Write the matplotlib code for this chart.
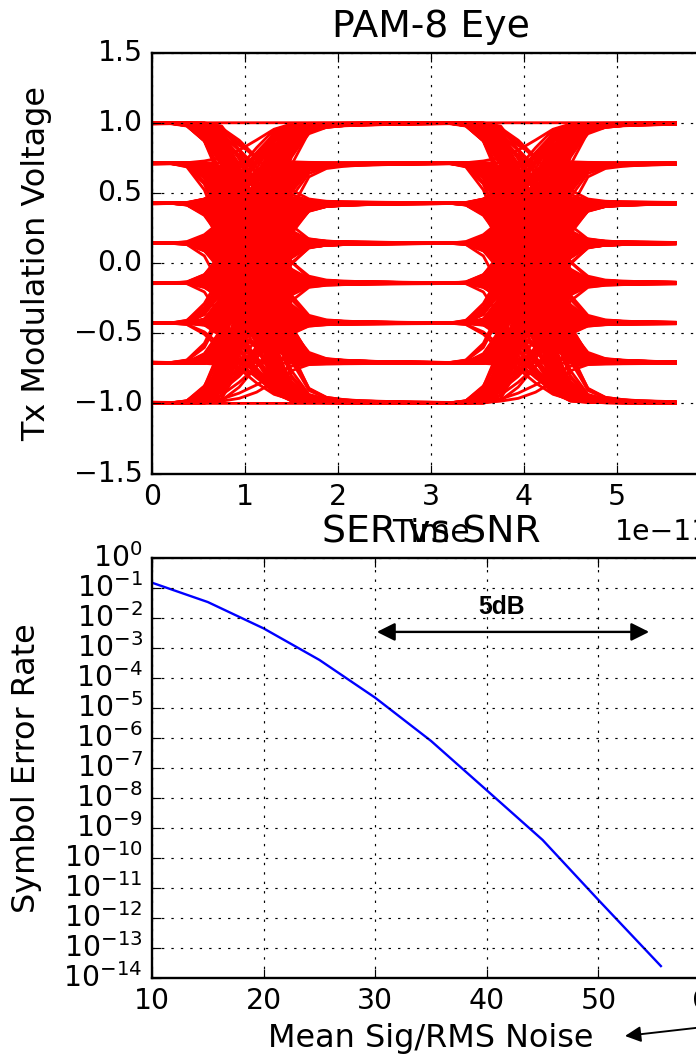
import numpy as np
import matplotlib
matplotlib.use('Agg')
import matplotlib.pyplot as plt

plt.style.use('classic')
plt.rcParams['figure.facecolor'] = 'white'
plt.rcParams['savefig.facecolor'] = 'white'
plt.rcParams['font.family'] = ['DejaVu Sans']
plt.rcParams['font.size'] = 12
plt.rcParams['axes.titlesize'] = 16
plt.rcParams['axes.labelsize'] = 13.5
plt.rcParams['xtick.labelsize'] = 12
plt.rcParams['ytick.labelsize'] = 12
plt.rcParams['axes.titlepad'] = 6.5

# --- PAM-8 eye: levels, symbol pattern, Tx step response ---
levels = [-1.0, -0.714, -0.429, -0.143, 0.143, 0.429, 0.714, 1.0]
symbols = ("0010203040506071121314151617223242526273343536374454647556576677"
           "0625173046213570642751360247153062417350264173605274136250714635"
           "3517260413562074315720461375026431750624137052641730562471350264"
           "7142635071462305714263507146230571462350716423057164235071642305"
           "5203716452701364025713604275136402571360427513640257136042751364"
           "2716054327160543271605432716054327160543271605432716054327160543"
           "4061735206417352061473520614735206147352061473520614735206147352")
# per-edge timing offset (1e-11 s), edge speed factor and mid-edge bend (V), used in turn
jitter = [0.00, 0.08, -0.06, 0.12, -0.10, 0.04, -0.01, 0.06, -0.12, 0.09,
          -0.07, 0.02, -0.04, 0.11, -0.09, 0.05, -0.02, 0.07, -0.11, 0.01,
          -0.05, 0.10, -0.01, 0.04, -0.08, 0.06, -0.04, 0.03, -0.07]
rise = [1.0, 0.88, 1.12, 0.94, 1.06, 0.85, 1.15, 0.97, 1.09, 0.91, 1.03]
bend = [0.0, 0.06, -0.05, 0.03, -0.07, 0.05, -0.02, 0.07, -0.06, 0.04, -0.04, 0.01, -0.07]
step_t = [-0.65, -0.5, -0.4, -0.25, -0.1, 0.0, 0.1, 0.25, 0.4, 0.5, 0.65, 0.9, 1.4, 2.2, 3.5]
step_v = [0.0, 0.02, 0.07, 0.2, 0.38, 0.5, 0.62, 0.8, 0.93, 0.965, 0.982, 0.99, 0.995, 0.998, 1.0]
bump_t = [-0.45, -0.2, 0.0, 0.2, 0.45]
bump_v = [0.0, 0.7, 1.0, 0.7, 0.0]
ui = 3.0        # symbol period (1e-11 s)
dt = 0.1875     # sample spacing (1e-11 s)
n_trace = 31    # samples in one trace
t_edge = 1.08   # where the symbol edge sits inside a trace

# --- SER vs SNR curve ---
snr = [10, 15, 20, 25, 30, 35, 40, 45, 50, 55.6]
ser = [1.5e-1, 3.4e-2, 4.5e-3, 4.0e-4, 2.2e-5, 8.0e-7, 1.8e-8, 4.0e-10, 4.0e-12, 2.5e-14]


# build the Tx waveform from the symbols
a = np.array([levels[int(c)] for c in symbols])
spu = int(round(ui / dt))
start = int(round(t_edge / dt))
t_off = t_edge - start * dt
t = np.arange(len(a) * spu) * dt
wave = np.full(t.shape, a[0])
for k in range(1, len(a)):
    d = a[k] - a[k - 1]
    if d == 0:
        continue
    x = (t - k * ui - t_off - jitter[k % len(jitter)]) / rise[k % len(rise)]
    wave += d * np.interp(x, step_t, step_v) + bend[k % len(bend)] * np.interp(x, bump_t, bump_v)
wave = np.clip(wave, -1.0, 1.0)  # Tx output saturates at full swing

segs = np.array([wave[k * spu - start: k * spu - start + n_trace] for k in range(1, len(a) - 1)])
tt = np.arange(n_trace) * dt * 1e-11

fig = plt.figure(figsize=(696 / 170, 1054 / 170), dpi=170)

# Eye diagram
ax1 = fig.add_axes([0.2184, 0.5507, 0.8017, 0.3994])
ax1.plot(tt, segs.T, color='r', lw=1.2)
ax1.set_xlim(0, 6e-11)
ax1.set_ylim(-1.5, 1.5)
ax1.set_xticks(np.arange(0, 7) * 1e-11)
ax1.set_yticks(np.arange(-1.5, 1.51, 0.5))
ax1.grid(True)
ax1.set_title('PAM-8 Eye')
ax1.set_xlabel('Time', labelpad=3)
ax1.set_ylabel('Tx Modulation Voltage', labelpad=9)

# SER vs SNR
ax2 = fig.add_axes([0.2184, 0.0721, 0.8017, 0.3985])
ax2.semilogy(snr, ser, color='b', lw=1.0)
ax2.set_xlim(10, 60)
ax2.set_ylim(1e-14, 1)
ax2.set_yticks([10.0 ** -i for i in range(15)])
ax2.yaxis.set_minor_locator(matplotlib.ticker.NullLocator())
ax2.grid(True)
ax2.set_title('SER vs SNR')
ax2.set_xlabel('Mean Sig/RMS Noise', labelpad=3)
ax2.set_ylabel('Symbol Error Rate', labelpad=9)

# 5dB marker
ax2.annotate('', xy=(0.403, 0.824), xytext=(0.891, 0.824), xycoords='axes fraction',
             arrowprops=dict(arrowstyle='<|-|>', color='k', lw=1.0, mutation_scale=16,
                             shrinkA=0, shrinkB=0))
ax2.text(0.627, 0.867, '5dB', transform=ax2.transAxes, ha='center', va='baseline',
         fontsize=10.5, fontweight='bold', family='Liberation Sans')

# pointer coming in from the right
ax2.annotate('', xy=(0.898, 0.0171), xycoords='figure fraction',
             xytext=(1.15, 0.036), textcoords='figure fraction',
             arrowprops=dict(arrowstyle='-|>', color='k', lw=0.8, mutation_scale=14,
                             shrinkA=0, shrinkB=0),
             annotation_clip=False)

fig.savefig('out.png', dpi=170)
